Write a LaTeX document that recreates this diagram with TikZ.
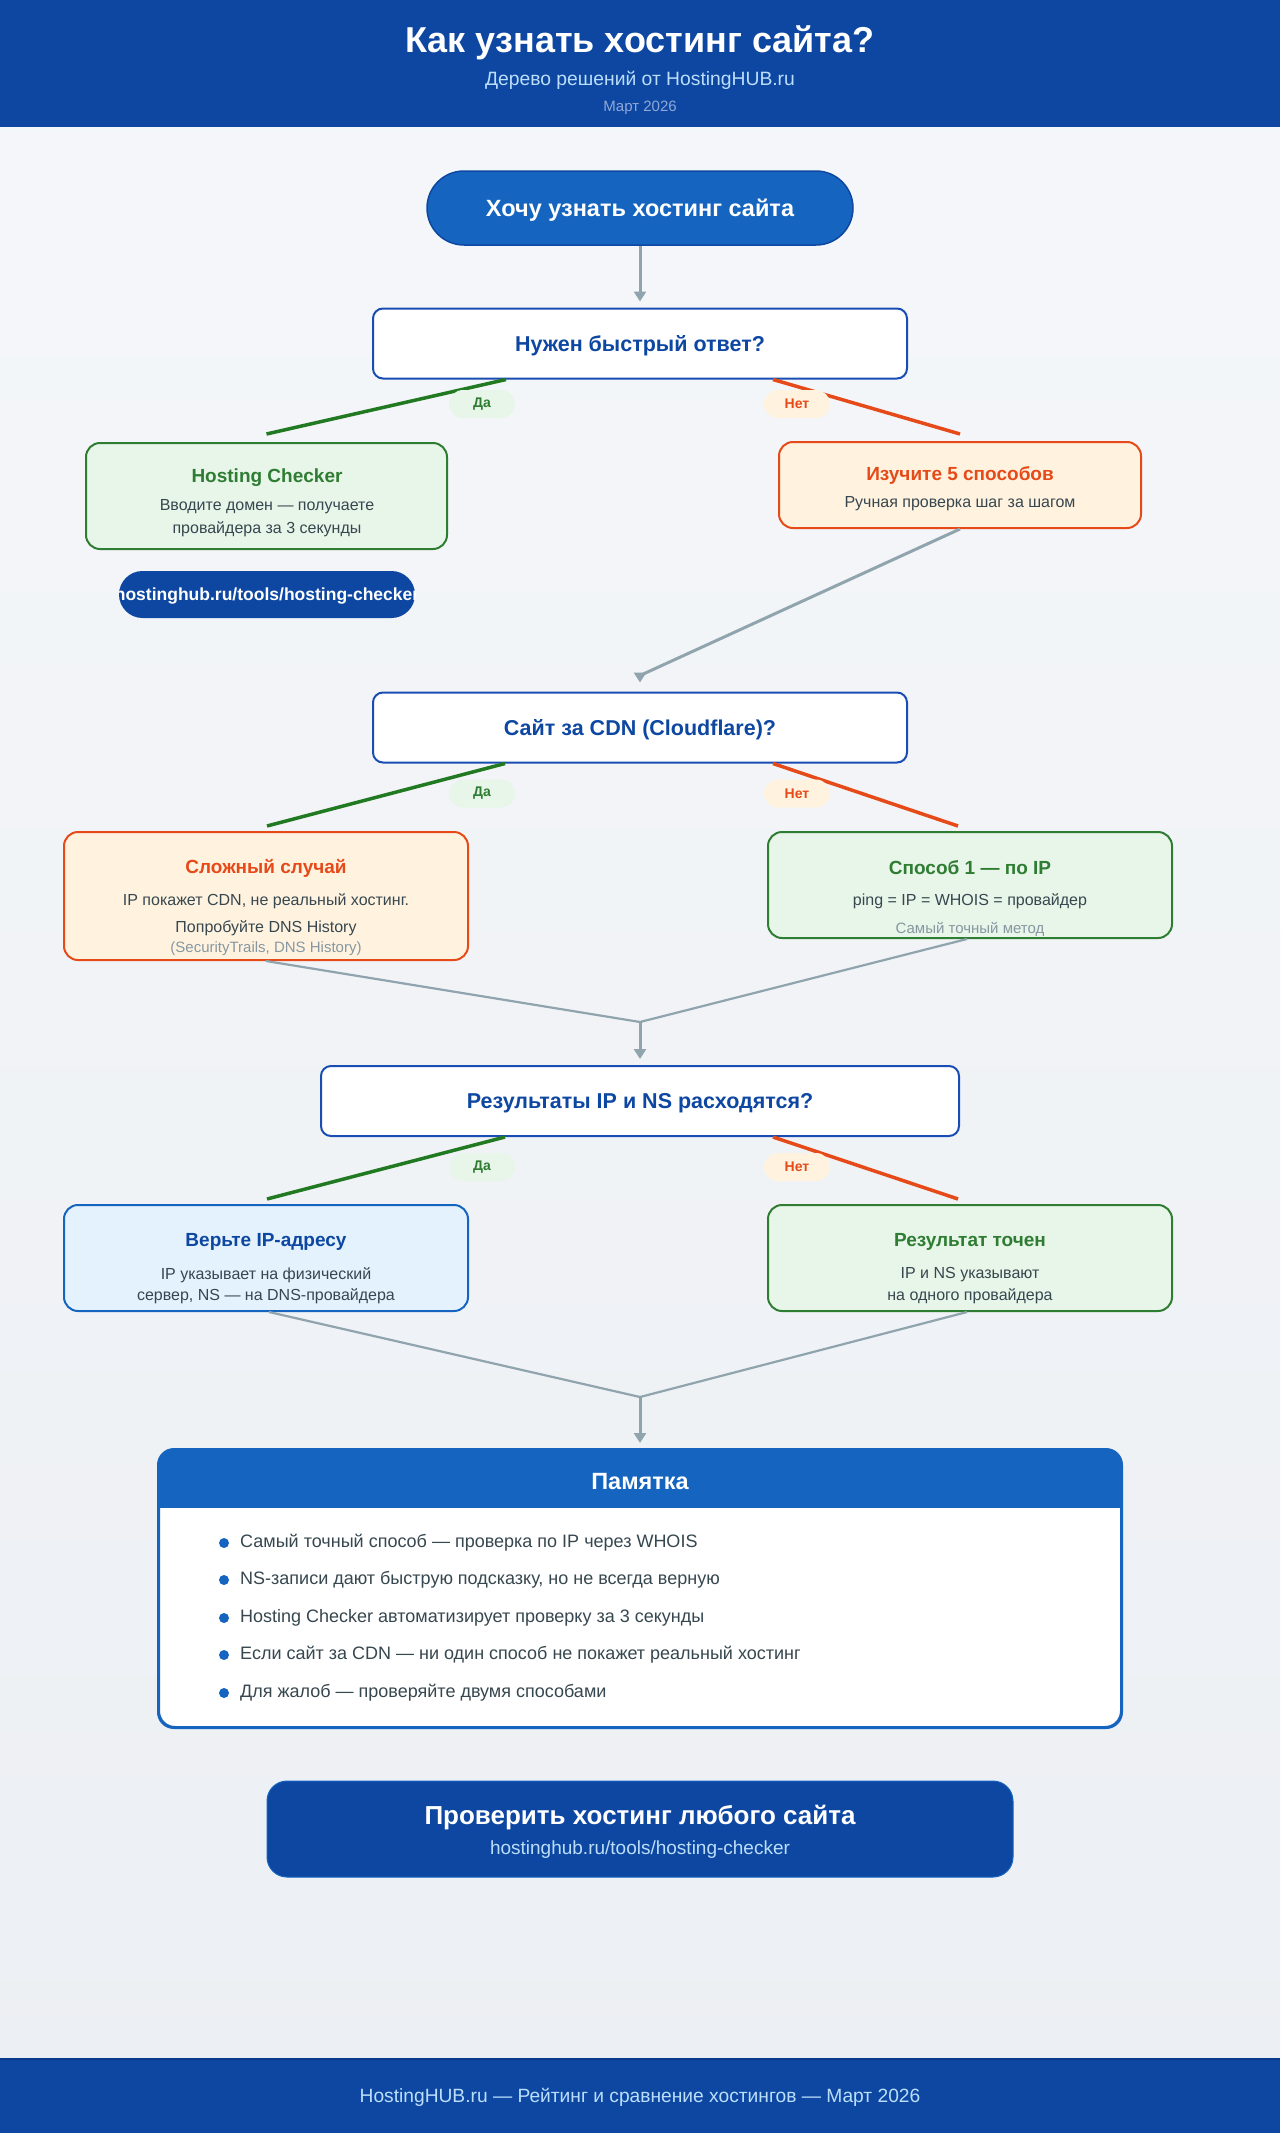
\documentclass[tikz,border=0pt]{standalone}
\usepackage{fontspec}
\setmainfont{Liberation Sans}
\usetikzlibrary{arrows.meta}

\definecolor{hubnavy}{HTML}{0D47A1}
\definecolor{hubblue}{HTML}{1565C0}
\definecolor{qborder}{HTML}{1A4DB3}
\definecolor{hubdeep}{HTML}{0A3A8C}
\definecolor{okgreen}{HTML}{2E7D32}
\definecolor{okline}{HTML}{217A21}
\definecolor{okfill}{HTML}{E8F5E9}
\definecolor{warnred}{HTML}{E64A19}
\definecolor{warnfill}{HTML}{FFF3E0}
\definecolor{infofill}{HTML}{E3F2FD}
\definecolor{linkgrey}{HTML}{90A4AE}
\definecolor{bodytext}{HTML}{37474F}
\definecolor{mutetext}{HTML}{8797A1}
\definecolor{paletext}{HTML}{BBDEFB}
\definecolor{datetext}{HTML}{8FA8D8}
\definecolor{bgtop}{HTML}{F5F7FA}
\definecolor{bgbot}{HTML}{ECEFF3}

\newcommand{\fsz}[1]{\fontsize{#1}{#1}\selectfont}

\tikzset{
  box/.style={draw, line width=2pt, rounded corners=14pt, inner sep=0pt,
    minimum width=404pt, minimum height=106pt},
  qbox/.style={box, draw=qborder, fill=white, rounded corners=10pt,
    minimum width=534pt, minimum height=70pt},
  okbox/.style={box, draw=okgreen, fill=okfill},
  warnbox/.style={box, draw=warnred, fill=warnfill},
  infobox/.style={box, draw=hubblue, fill=infofill},
  txt/.style={yshift=-2pt},
  qtext/.style={txt, font=\bfseries\fsz{21.5}, text=hubnavy},
  ttl/.style={txt, font=\bfseries\fsz{19}},
  sub/.style={txt, font=\fsz{16}, text=bodytext},
  note/.style={txt, font=\fsz{15}, text=mutetext},
  answer/.style={rounded corners=14pt, minimum width=66pt, minimum height=28pt,
    inner sep=0pt, font=\bfseries\fsz{14}},
  yeslbl/.style={answer, fill=okfill, text=okgreen},
  nolbl/.style={answer, fill=warnfill, text=warnred},
  yesline/.style={draw=okline, line width=3.5pt},
  noline/.style={draw=warnred, line width=3.5pt},
  flow/.style={draw=linkgrey, line width=3pt, ->, shorten >=6pt},
  mergeline/.style={draw=linkgrey, line width=2.2pt},
  tip/.style={txt, font=\fsz{18}, text=bodytext, anchor=west, inner sep=0pt}
}

\begin{document}
\begin{tikzpicture}[x=1pt,y=-1pt,>={Triangle[length=10pt,width=12pt]}]
  \useasboundingbox (0,0) rectangle (1280,2133);
  \shade[top color=bgtop,bottom color=bgbot] (0,0) rectangle (1280,2133);

  % --- header ---
  \fill[hubnavy] (0,0) rectangle (1280,127);
  \node[txt,font=\bfseries\fsz{36},text=white] (title) at (640,41) {Как узнать хостинг сайта?};
  \node[txt,font=\fsz{19.3},text=paletext] (subtitle) at (640,78) {Дерево решений от HostingHUB.ru};
  \node[txt,font=\fsz{15},text=datetext] (date) at (640,106) {Март 2026};

  % --- start ---
  \node[draw=hubnavy,fill=hubblue,line width=1.5pt,rounded corners=37pt,
    minimum width=426pt,minimum height=74pt,text depth=0pt,
    font=\bfseries\fsz{23.5},text=white]
    (start) at (640,208) {Хочу узнать хостинг сайта};

  % --- question 1 ---
  \node[qbox] (q1) at (640,343.5) {};
  \node[qtext] (q1-t) at (q1) {Нужен быстрый ответ?};
  \draw[flow] (start) -- (q1);

  \node[okbox,minimum width=361pt] (hc) at (266.5,496) {};
  \node[ttl,text=okgreen] (hc-t) at (267,476) {Hosting Checker};
  \node[sub] (hc-a) at (267,505) {Вводите домен — получаете};
  \node[sub] (hc-b) at (267,527) {провайдера за 3 секунды};

  \node[fill=hubnavy,rounded corners=23.5pt,minimum width=296pt,minimum height=47pt,
    inner sep=0pt] (link) at (267,594.5) {};
  \begin{scope}
    \clip[rounded corners=23.5pt] (link.north west) rectangle (link.south east);
    \node[txt,font=\bfseries\fsz{17.5},text=white] (link-t) at (link) {hostinghub.ru/tools/hosting-checker};
  \end{scope}

  \node[warnbox,minimum width=362pt,minimum height=86pt] (ways) at (960,485) {};
  \node[ttl,text=warnred] (ways-t) at (960,473) {Изучите 5 способов};
  \node[sub] (ways-a) at (960,502) {Ручная проверка шаг за шагом};

  \draw[yesline] ([xshift=-134pt]q1.south) -- ([yshift=8pt]hc.north);
  \draw[noline] ([xshift=133pt]q1.south) -- ([yshift=7pt]ways.north);
  \node[yeslbl] (q1-yes) at (482,404) {Да};
  \node[nolbl] (q1-no) at (797,404) {Нет};

  % --- question 2 ---
  \node[qbox] (q2) at (640,727.5) {};
  \node[qtext] (q2-t) at (q2) {Сайт за CDN (Cloudflare)?};
  \coordinate (ways-end) at ([yshift=16pt]q2.north);
  \draw[linkgrey,line width=3pt] (ways.south) -- (ways-end);
  \draw[flow,shorten >=0pt] (ways-end) -- ([yshift=9pt]q2.north);

  \node[warnbox,minimum height=128pt] (hard) at (266,896) {};
  \node[ttl,text=warnred] (hard-t) at (266,866) {Сложный случай};
  \node[sub] (hard-a) at (266,899) {IP покажет CDN, не реальный хостинг.};
  \node[sub] (hard-b) at (266,926) {Попробуйте DNS History};
  \node[note] (hard-c) at (266,947) {(SecurityTrails, DNS History)};

  \node[okbox] (byip) at (970,885) {};
  \node[ttl,text=okgreen] (byip-t) at (970,866) {Способ 1 — по IP};
  \node[sub] (byip-a) at (970,899) {ping = IP = WHOIS = провайдер};
  \node[note] (byip-b) at (970,927) {Самый точный метод};

  \draw[yesline] ([xshift=-135pt]q2.south) -- ([xshift=1pt,yshift=5pt]hard.north);
  \draw[noline] ([xshift=133pt]q2.south) -- ([xshift=-12pt,yshift=5pt]byip.north);
  \node[yeslbl] (q2-yes) at (482,793.5) {Да};
  \node[nolbl] (q2-no) at (797,793.5) {Нет};

  \coordinate (m1) at (640,1022);
  \draw[mergeline] (hard.south) -- (m1);
  \draw[mergeline] ([xshift=-3pt]byip.south) -- (m1);

  % --- question 3 ---
  \node[qbox,minimum width=638pt] (q3) at (640,1101) {};
  \node[qtext] (q3-t) at (q3) {Результаты IP и NS расходятся?};
  \draw[flow] (m1) -- (q3.north);

  \node[infobox] (trust) at (266,1258) {};
  \node[ttl,text=hubnavy] (trust-t) at (266,1240) {Верьте IP-адресу};
  \node[sub] (trust-a) at (266,1273) {IP указывает на физический};
  \node[sub] (trust-b) at (266,1294) {сервер, NS — на DNS-провайдера};

  \node[okbox] (exact) at (970,1258) {};
  \node[ttl,text=okgreen] (exact-t) at (970,1240) {Результат точен};
  \node[sub] (exact-a) at (970,1273) {IP и NS указывают};
  \node[sub] (exact-b) at (970,1294) {на одного провайдера};

  \draw[yesline] ([xshift=-135pt]q3.south) -- ([xshift=1pt,yshift=5pt]trust.north);
  \draw[noline] ([xshift=133pt]q3.south) -- ([xshift=-12pt,yshift=5pt]exact.north);
  \node[yeslbl] (q3-yes) at (482,1167) {Да};
  \node[nolbl] (q3-no) at (797,1167) {Нет};

  \coordinate (m2) at (640,1397);
  \draw[mergeline] ([xshift=3pt]trust.south) -- (m2);
  \draw[mergeline] ([xshift=-3pt]exact.south) -- (m2);

  % --- memo ---
  \node[draw=hubblue,fill=white,line width=2pt,rounded corners=16pt,
    minimum width=962pt,minimum height=277pt,inner sep=0pt] (memo) at (640,1588.5) {};
  \begin{scope}
    \clip[rounded corners=16pt] (memo.north west) rectangle (memo.south east);
    \fill[hubblue] (memo.north west) rectangle ([yshift=-59pt]memo.north east);
  \end{scope}
  \draw[hubblue,line width=2pt,rounded corners=16pt] (memo.north west) rectangle (memo.south east);
  \draw[flow] (m2) -- (memo.north);
  \node[txt,font=\bfseries\fsz{23.5},text=white] (memo-t) at (640,1480) {Памятка};

  \fill[hubblue] (224,1543) circle (5pt);
  \node[tip] (tip1) at (240,1541) {Самый точный способ — проверка по IP через WHOIS};
  \fill[hubblue] (224,1580) circle (5pt);
  \node[tip] (tip2) at (240,1578) {NS-записи дают быструю подсказку, но не всегда верную};
  \fill[hubblue] (224,1618) circle (5pt);
  \node[tip] (tip3) at (240,1616) {Hosting Checker автоматизирует проверку за 3 секунды};
  \fill[hubblue] (224,1655) circle (5pt);
  \node[tip] (tip4) at (240,1653) {Если сайт за CDN — ни один способ не покажет реальный хостинг};
  \fill[hubblue] (224,1693) circle (5pt);
  \node[tip] (tip5) at (240,1691) {Для жалоб — проверяйте двумя способами};

  % --- call to action ---
  \node[fill=hubnavy,draw=hubblue,line width=1pt,rounded corners=20pt,
    minimum width=746pt,minimum height=96pt] (cta) at (640,1829) {};
  \node[txt,font=\bfseries\fsz{26},text=white] (cta-t) at (640,1816) {Проверить хостинг любого сайта};
  \node[txt,font=\fsz{19},text=paletext] (cta-u) at (640,1848) {hostinghub.ru/tools/hosting-checker};

  % --- footer ---
  \fill[hubnavy] (0,2058) rectangle (1280,2133);
  \draw[hubdeep,line width=2pt] (0,2059) -- (1280,2059);
  \node[txt,font=\fsz{19.2},text=paletext] (foot) at (640,2095)
    {HostingHUB.ru — Рейтинг и сравнение хостингов — Март 2026};
\end{tikzpicture}
\end{document}
